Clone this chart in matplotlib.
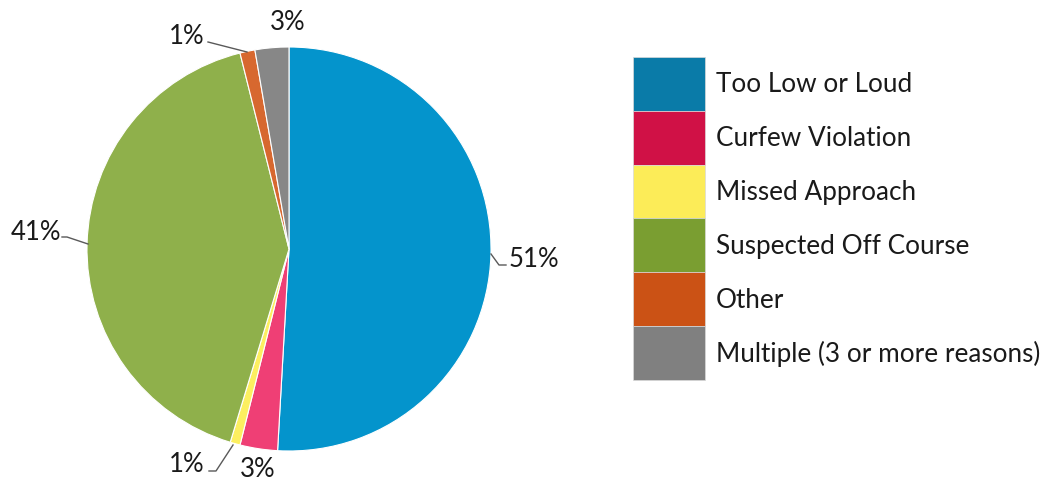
"""Complaint reasons pie chart with separate swatch legend."""
import matplotlib.pyplot as plt
from matplotlib.patches import Rectangle

categories = ["Too Low or Loud", "Curfew Violation", "Missed Approach",
              "Suspected Off Course", "Other", "Multiple (3 or more reasons)"]
shares = [50.9, 3.0, 0.8, 41.4, 1.2, 2.7]
pct_labels = ["51%", "3%", "1%", "41%", "1%", "3%"]

pie_colors = ["#0494cc", "#ef3f75", "#fcef60", "#8fb04b", "#d7682f", "#878787"]
legend_colors = ["#0a7ba8", "#d01146", "#fcec58", "#7a9e31", "#cb5215", "#808080"]

W, H = 1043, 485
plt.rcParams["font.family"] = ["Lato", "DejaVu Sans"]

fig = plt.figure(figsize=(W / 100, H / 100), dpi=100)
ax = fig.add_axes([0, 0, 1, 1])

cx, cy, r = 289, 250, 202
# y axis is inverted below: startangle=-90 is screen top, counterclock runs clockwise
ax.pie(shares, colors=pie_colors, startangle=-90, counterclock=True,
       center=(cx, cy), radius=r,
       wedgeprops=dict(edgecolor="white", linewidth=0.8))
ax.set_xlim(0, W)
ax.set_ylim(H, 0)
ax.set_aspect("equal")
ax.axis("off")

# label positions and leader polylines, layout only
label_pos = [(534, 260), (258, 470), (187, 465), (36, 233), (187, 37), (288, 22)]
leaders = [
    [(491, 255), (499, 266), (506, 266)],
    None,
    [(209, 472), (216, 472), (233, 446)],
    [(62, 238), (67, 238), (88, 245)],
    [(208, 43), (247, 53)],
    None,
]
for (x, y), txt, ld in zip(label_pos, pct_labels, leaders):
    ax.text(x, y, txt, ha="center", va="center", fontsize=18.5, color="#1a1a1a")
    if ld:
        xs, ys = zip(*ld)
        ax.plot(xs, ys, color="#595959", lw=1)

# legend swatches
sx, sy, sw, sh = 633, 58, 72, 53.8
for i, (name, col) in enumerate(zip(categories, legend_colors)):
    ax.add_patch(Rectangle((sx, sy + i * sh), sw, sh, facecolor=col,
                           edgecolor="#d9d9d9", linewidth=0.5))
    ax.text(716, sy + i * sh + sh / 2, name, ha="left", va="center",
            fontsize=18.8, color="#1a1a1a")

fig.savefig("out.png", dpi=100)
